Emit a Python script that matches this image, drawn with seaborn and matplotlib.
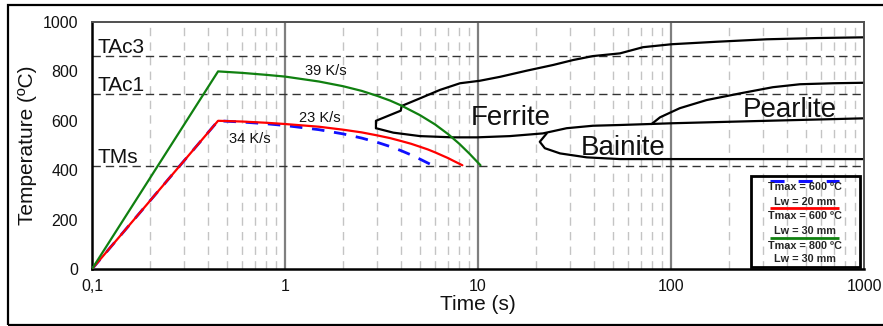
import matplotlib
matplotlib.use("Agg")
import matplotlib.pyplot as plt
import seaborn as sns
import pandas as pd
from matplotlib.patches import Rectangle
from matplotlib.ticker import NullLocator

# ---------------- data ----------------
# Thermal cycles: heating from 0.1 s then cooling
green_t = [0.1, 0.45, 0.6, 0.8, 1.0, 1.5, 2.0, 2.5, 3.0, 3.5, 4.0, 5.0, 6.0, 7.0, 8.0, 9.0, 10.3]
green_T = [0, 800, 794, 786, 779, 759, 740, 721, 701, 682, 662, 623, 585, 546, 507, 468, 420]

red_t = [0.1, 0.45, 0.6, 0.8, 1.0, 1.5, 2.0, 2.5, 3.0, 3.5, 4.0, 4.5, 5.0, 5.5, 6.0, 6.5, 7.0, 7.5, 8.3]
red_T = [0, 600, 597, 592, 587, 576, 564, 553, 541, 530, 518, 507, 495, 484, 472, 460, 449, 437, 420]

blue_t = [0.1, 0.45, 0.6, 0.8, 1.0, 1.5, 2.0, 2.5, 3.0, 3.5, 4.0, 4.5, 5.0, 5.8]
blue_T = [0, 600, 595, 588, 581, 564, 547, 530, 513, 496, 479, 462, 445, 420]

# CCT diagram boundaries
ferrite_start_t = [2.96, 2.96, 3.98, 4.02, 5.01, 6.35, 8.07, 10.2, 13.0, 17.9,
                   24.5, 31.1, 39.4, 54.4, 71.6, 100.8, 172, 313, 569, 1000]
ferrite_start_T = [570, 600, 641, 660, 691, 725, 752, 762, 778, 803,
                   826, 846, 862, 873, 898, 910, 920, 930, 935, 938]

ferrite_end_t = [2.96, 3.64, 5.01, 7.42, 9.85, 14.6, 21.7, 28.8, 39.4, 54.4,
                 77.8, 100.8, 313, 1000]
ferrite_end_T = [570, 552, 538, 533, 533, 538, 549, 570, 580, 583,
                 587, 590, 600, 610]

bainite_low_t = [22.7, 20.9, 22.2, 26.6, 36.6, 54.4, 100.8, 1000]
bainite_low_T = [549, 515, 489, 468, 452, 445, 445, 445]

pearlite_t = [79.4, 87.7, 111, 153, 228, 337, 466, 691, 1000]
pearlite_T = [587, 614, 651, 684, 711, 736, 748, 752, 754]

# Critical temperatures
crit_names = ["TAc3", "TAc1", "TMs"]
crit_T = [864, 710, 418]

# Labels
rate_labels = ["39 K/s", "23 K/s", "34 K/s"]
rate_pos_t = [1.62, 1.52, 0.659]
rate_pos_T = [785, 595, 510]

phase_labels = ["Ferrite", "Bainite", "Pearlite"]
phase_pos_t = [14.8, 56.7, 414]
phase_pos_T = [583, 461, 615]

x_ticks = [0.1, 1, 10, 100, 1000]
x_ticklabels = ["0,1", "1", "10", "100", "1000"]
y_ticks = [0, 200, 400, 600, 800, 1000]

legend_labels = ["Tmax = 600 ºC\nLw = 20 mm",
                 "Tmax = 600 ºC\nLw = 30 mm",
                 "Tmax = 800 ºC\nLw = 30 mm"]

# ---------------- figure ----------------
sns.set_theme(style="white")
plt.rcParams["font.family"] = ["Liberation Sans", "DejaVu Sans"]

W, H = 883, 326
fig = plt.figure(figsize=(W / 100, H / 100), dpi=100)
ax = fig.add_axes([92 / W, 1 - 269 / H, 772 / W, 247 / H])
ax.set_xscale("log")

# vertical grid
for dec in [0.1, 1, 10, 100]:
    for m in range(2, 10):
        ax.axvline(dec * m, color="#c4c4c4", lw=1.0, ls=(0, (6, 4.5)), zorder=0)
for v in [1, 10, 100]:
    ax.axvline(v, color="#7f7f7f", lw=1.6, zorder=0.5)

# critical temperature lines + labels
for name, T in zip(crit_names, crit_T):
    ax.axhline(T, color="#333333", lw=1.0, ls=(0, (6, 3.6)), zorder=1)
    ax.text(0.1074, T + 10, name, fontsize=15, ha="left", va="baseline",
            color="#111111", zorder=3)

# CCT curves
for tt, TT in [(ferrite_start_t, ferrite_start_T), (ferrite_end_t, ferrite_end_T),
               (bainite_low_t, bainite_low_T), (pearlite_t, pearlite_T)]:
    df = pd.DataFrame({"t": tt, "T": TT})
    sns.lineplot(data=df, x="t", y="T", sort=False, estimator=None, ax=ax,
                 color="black", lw=1.6, zorder=2)

# thermal cycles
sns.lineplot(x=blue_t, y=blue_T, sort=False, estimator=None, ax=ax,
             color="#1010ff", lw=2.0, linestyle=(0, (4.5, 3.5)), zorder=3)
sns.lineplot(x=red_t, y=red_T, sort=False, estimator=None, ax=ax,
             color="#ff0000", lw=1.6, zorder=4)
sns.lineplot(x=green_t, y=green_T, sort=False, estimator=None, ax=ax,
             color="#108010", lw=1.6, zorder=5)

for lab, t, T in zip(rate_labels, rate_pos_t, rate_pos_T):
    ax.text(t, T, lab, fontsize=10.5, ha="center", va="baseline", color="#111111")
for lab, t, T in zip(phase_labels, phase_pos_t, phase_pos_T):
    ax.text(t, T, lab, fontsize=20, ha="center", va="baseline", color="#111111")

# axes
ax.set_xlim(0.1, 1000)
ax.set_ylim(0, 1000)
ax.set_xticks(x_ticks)
ax.set_xticklabels(x_ticklabels)
ax.xaxis.set_minor_locator(NullLocator())
ax.set_yticks(y_ticks)
ax.tick_params(axis="both", length=0, labelsize=11.5, colors="#111111")
ax.tick_params(axis="y", pad=10)
ax.tick_params(axis="x", pad=7)
ax.set_xlabel("Time (s)", fontsize=15, labelpad=1, color="#111111")
ax.set_ylabel("Temperature (ºC)", fontsize=15, labelpad=4, color="#111111")
for s in ["left", "bottom"]:
    ax.spines[s].set_color("black")
    ax.spines[s].set_linewidth(1.8)
for s in ["top", "right"]:
    ax.spines[s].set_color("#505050")
    ax.spines[s].set_linewidth(1.4)

# custom legend box
lx0, lx1 = 0.8536, 0.9948
ly0, ly1 = 0.0093, 0.3765
ax.add_patch(Rectangle((lx0, ly0), lx1 - lx0, ly1 - ly0, transform=ax.transAxes,
                       fill=False, ec="black", lw=2.0, zorder=6))
line_x = [0.878, 0.968]
line_specs = [
    (0.356, "#1010ff", (0, (4.6, 4.6)), 2.2),
    (0.247, "#ff0000", "-", 2.0),
    (0.1255, "#108010", "-", 2.0),
]
text_y = [(0.330, 0.271), (0.2126, 0.154), (0.095, 0.0405)]
for (ly, c, ls, lw), (ty1, ty2), lab in zip(line_specs, text_y, legend_labels):
    ax.plot(line_x, [ly, ly], transform=ax.transAxes, color=c, ls=ls, lw=lw,
            zorder=7, solid_capstyle="butt")
    l1, l2 = lab.split("\n")
    ax.text(0.9236, ty1, l1, transform=ax.transAxes, fontsize=7.8,
            fontweight="bold", ha="center", va="center", zorder=7)
    ax.text(0.9236, ty2, l2, transform=ax.transAxes, fontsize=7.8,
            fontweight="bold", ha="center", va="center", zorder=7)

# outer figure frame
fig.add_artist(Rectangle((8 / W, 1 / H), 1.0, 320 / H, transform=fig.transFigure,
                         fill=False, ec="black", lw=1.6))

fig.savefig("out.png", dpi=100)
